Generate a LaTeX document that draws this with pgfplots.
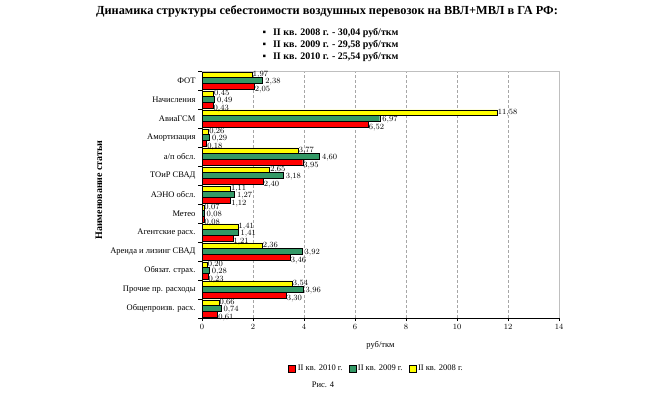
\documentclass[border=0pt]{standalone}
\usepackage{pgfplots}
\pgfplotsset{compat=1.18}
\usepackage{pgfplotstable}
\usepackage{fontspec}
\setmainfont{Liberation Serif}
\definecolor{bargreen}{RGB}{51,153,102}
\definecolor{baryellow}{RGB}{255,255,0}
\definecolor{barred}{RGB}{255,0,0}

\pgfplotstableread{
pos a2008 a2009 a2010
12 1.97 2.38 2.05
11 0.45 0.49 0.43
10 11.58 6.97 6.52
9 0.26 0.29 0.18
8 3.77 4.60 3.95
7 2.65 3.18 2.40
6 1.11 1.27 1.12
5 0.07 0.08 0.08
4 1.41 1.41 1.21
3 2.36 3.92 3.46
2 0.20 0.28 0.23
1 3.54 3.96 3.30
0 0.66 0.74 0.61
}\datatable

\begin{document}
\begin{tikzpicture}
\useasboundingbox (0,0) rectangle (650pt,392pt);
\begin{axis}[
  at={(202pt,74pt)}, anchor=south west,
  scale only axis, width=357pt, height=247pt,
  xbar, bar width=5.8pt,
  xmin=0, xmax=14, xtick={0,2,...,14},
  ymin=-0.5, ymax=12.5,
  ytick={0,...,12},
  yticklabels={Общепроизв. расх., Прочие пр. расходы, Обязат. страх., Аренда и лизинг СВАД, Агентские расх., Метео, АЭНО обсл., ТОиР СВАД, а/п обсл., Амортизация, АвиаГСМ, Начисления, ФОТ},
  minor ytick={-0.5,0.5,...,12.5},
  major y tick style={draw=none},
  minor tick length=4pt, major tick length=3pt,
  tick align=outside,
  tick style={black, line width=0.4pt},
  axis x line*=bottom, axis y line*=left,
  axis line style={black, line width=0.5pt},
  xmajorgrids, grid style={densely dashed, gray!70, line width=0.5pt},
  tick label style={font=\fontsize{8.5}{10}\selectfont},
  xlabel={руб/ткм},
  xlabel style={at={(axis description cs:0.5,-0.11)}, anchor=center, font=\fontsize{8.5}{10}\selectfont},
  clip=false,
  nodes near coords={\pgfmathprintnumber[fixed,fixed zerofill,precision=2,use comma]{\pgfplotspointmeta}},
  nodes near coords style={font=\fontsize{8}{9}\selectfont, inner sep=0.5pt},
  legend columns=-1,
  legend style={at={(0.489,-0.206)}, anchor=center, draw=none, font=\fontsize{8.5}{10}\selectfont,
    /tikz/every even column/.append style={column sep=4pt}},
  legend image code/.code={\draw[#1, draw=black, line width=0.4pt] (0pt,-3.5pt) rectangle (7pt,3.5pt);},
]
\addplot[fill=barred, draw=black, line width=0.4pt, bar shift=-5.8pt,
  every node near coord/.append style={anchor=north west, yshift=1pt}]
  table[x=a2010, y=pos] {\datatable};
\addplot[fill=bargreen, draw=black, line width=0.4pt, bar shift=0pt,
  every node near coord/.append style={anchor=west, xshift=2pt, yshift=-1.5pt}]
  table[x=a2009, y=pos] {\datatable};
\addplot[fill=baryellow, draw=black, line width=0.4pt, bar shift=5.8pt,
  every node near coord/.append style={anchor=west}]
  table[x=a2008, y=pos] {\datatable};
\legend{II кв. 2010 г., II кв. 2009 г., II кв. 2008 г.}
\draw[gray!50, line width=0.5pt] (rel axis cs:0,1) -- (rel axis cs:1,1) -- (rel axis cs:1,0);
\end{axis}
\node[font=\bfseries\fontsize{12.3}{14}\selectfont] at (327pt,381pt) {Динамика структуры себестоимости воздушных перевозок на ВВЛ+МВЛ в ГА РФ:};
\node[anchor=west, font=\bfseries\fontsize{10}{12}\selectfont] at (259pt,359pt) {▪\hspace{7pt}II кв. 2008 г. - 30,04 руб/ткм};
\node[anchor=west, font=\bfseries\fontsize{10}{12}\selectfont] at (259pt,347pt) {▪\hspace{7pt}II кв. 2009 г. - 29,58 руб/ткм};
\node[anchor=west, font=\bfseries\fontsize{10}{12}\selectfont] at (259pt,335pt) {▪\hspace{7pt}II кв. 2010 г. - 25,54 руб/ткм};
\node[rotate=90, font=\bfseries\fontsize{10}{11}\selectfont] at (99pt,202pt) {Наименование статьи};
\node[font=\fontsize{8.5}{10}\selectfont] at (323pt,7pt) {Рис. 4};
\end{tikzpicture}
\end{document}
